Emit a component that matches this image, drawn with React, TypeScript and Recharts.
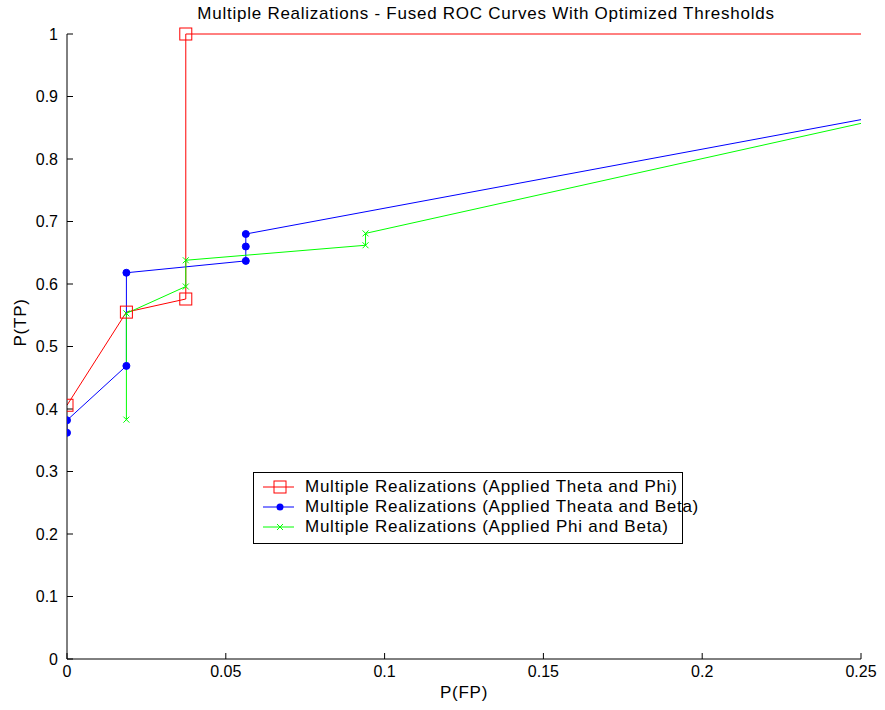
import React from 'react'
import { LineChart, Line, XAxis, YAxis } from 'recharts'

// P(FP) / P(TP)
const thetaPhiFp = [0, 0.0187, 0.0374, 0.0374, 0.25]
const thetaPhiTp = [0.406, 0.555, 0.576, 1.0, 1.0]

const thetaBetaFp = [0, 0, 0.0187, 0.0187, 0.0563, 0.0563, 0.0563, 0.25]
const thetaBetaTp = [0.362, 0.382, 0.469, 0.618, 0.637, 0.66, 0.68, 0.863]

const phiBetaFp = [0.0187, 0.0187, 0.0374, 0.0374, 0.094, 0.094, 0.25]
const phiBetaTp = [0.383, 0.553, 0.596, 0.638, 0.662, 0.681, 0.857]

const xTicks = [0, 0.05, 0.1, 0.15, 0.2, 0.25]
const yTicks = [0, 0.1, 0.2, 0.3, 0.4, 0.5, 0.6, 0.7, 0.8, 0.9, 1]

const seriesNames = [
  'Multiple Realizations (Applied Theta and Phi)',
  'Multiple Realizations (Applied Theata and Beta)',
  'Multiple Realizations (Applied Phi and Beta)',
]

const zip = (xs: number[], ys: number[]) => xs.map((fp, i) => ({ fp, tp: ys[i] }))

const FONT = '"Liberation Sans", Arial, sans-serif'
const X_MAX = 0.25

// the curves run on past the right edge, so no marker is drawn there
const SquareDot = (props: any) => {
  const { cx, cy, payload } = props
  if (cx == null || cy == null || payload.fp >= X_MAX) return null
  return <rect x={cx - 6} y={cy - 6} width={12} height={12} fill="none" stroke="#ff0000" strokeWidth={1} />
}

const CircleDot = (props: any) => {
  const { cx, cy, payload } = props
  if (cx == null || cy == null || payload.fp >= X_MAX) return null
  return <circle cx={cx} cy={cy} r={3.5} fill="#0000ff" stroke="#0000ff" />
}

const CrossDot = (props: any) => {
  const { cx, cy, payload } = props
  if (cx == null || cy == null || payload.fp >= X_MAX) return null
  const s = 3
  return (
    <g stroke="#00ff00" strokeWidth={1}>
      <line x1={cx - s} y1={cy - s} x2={cx + s} y2={cy + s} />
      <line x1={cx - s} y1={cy + s} x2={cx + s} y2={cy - s} />
    </g>
  )
}

const legendIcons = [
  (
    <g>
      <line x1={0} y1={8} x2={31} y2={8} stroke="#ff0000" />
      <rect x={11} y={2} width={12} height={12} fill="none" stroke="#ff0000" />
    </g>
  ),
  (
    <g>
      <line x1={0} y1={8} x2={31} y2={8} stroke="#0000ff" />
      <circle cx={17} cy={8} r={3.5} fill="#0000ff" />
    </g>
  ),
  (
    <g stroke="#00ff00">
      <line x1={0} y1={8} x2={31} y2={8} />
      <line x1={14} y1={5} x2={20} y2={11} />
      <line x1={14} y1={11} x2={20} y2={5} />
    </g>
  ),
]

const tickStyle = { fill: '#000', fontFamily: FONT, fontSize: 16 }
const labelStyle = { fill: '#000', fontFamily: FONT, fontSize: 17, letterSpacing: 0.75 }

export default function App() {
  return (
    <div style={{ position: 'absolute', left: 0, top: 0, width: 885, height: 710, background: '#fff' }}>
      <div
        style={{
          position: 'absolute',
          top: 4,
          left: 89,
          width: 794,
          textAlign: 'center',
          fontFamily: FONT,
          fontSize: 17,
          letterSpacing: 0.75,
          lineHeight: '20px',
        }}
      >
        Multiple Realizations - Fused ROC Curves With Optimized Thresholds
      </div>
      <LineChart width={885} height={710} margin={{ top: 34, right: 24, bottom: 0, left: 0 }}>
        <XAxis
          xAxisId="b"
          dataKey="fp"
          type="number"
          domain={[0, X_MAX]}
          ticks={xTicks}
          allowDataOverflow
          height={51}
          tickSize={-6}
          tickMargin={13}
          stroke="#000"
          tick={tickStyle}
          label={{ value: 'P(FP)', position: 'insideBottom', offset: 12, ...labelStyle }}
        />
        <XAxis
          xAxisId="t"
          orientation="top"
          dataKey="fp"
          type="number"
          domain={[0, X_MAX]}
          ticks={xTicks}
          height={0}
          tickSize={-6}
          tickFormatter={() => ''}
          stroke="#000"
        />
        <YAxis
          yAxisId="l"
          dataKey="tp"
          type="number"
          domain={[0, 1]}
          ticks={yTicks}
          width={67}
          tickSize={-6}
          tickMargin={15}
          stroke="#000"
          tick={tickStyle}
          label={{ value: 'P(TP)', angle: -90, position: 'insideLeft', offset: 20, ...labelStyle }}
        />
        <YAxis
          yAxisId="r"
          orientation="right"
          dataKey="tp"
          type="number"
          domain={[0, 1]}
          ticks={yTicks}
          width={0}
          tickSize={-6}
          tickFormatter={() => ''}
          stroke="#000"
        />
        <Line
          xAxisId="b"
          yAxisId="l"
          data={zip(thetaPhiFp, thetaPhiTp)}
          dataKey="tp"
          name={seriesNames[0]}
          stroke="#ff0000"
          strokeWidth={1}
          dot={<SquareDot />}
          activeDot={false}
          isAnimationActive={false}
        />
        <Line
          xAxisId="b"
          yAxisId="l"
          data={zip(thetaBetaFp, thetaBetaTp)}
          dataKey="tp"
          name={seriesNames[1]}
          stroke="#0000ff"
          strokeWidth={1}
          dot={<CircleDot />}
          activeDot={false}
          isAnimationActive={false}
        />
        <Line
          xAxisId="b"
          yAxisId="l"
          data={zip(phiBetaFp, phiBetaTp)}
          dataKey="tp"
          name={seriesNames[2]}
          stroke="#00ff00"
          strokeWidth={1}
          dot={<CrossDot />}
          activeDot={false}
          isAnimationActive={false}
        />
      </LineChart>
      <div
        style={{
          position: 'absolute',
          left: 253,
          top: 472,
          width: 428,
          height: 66,
          border: '1px solid #000',
          background: '#fff',
          fontFamily: FONT,
          fontSize: 17,
          letterSpacing: 0.75,
          lineHeight: '20px',
          paddingTop: 4,
          boxSizing: 'content-box',
        }}
      >
        {seriesNames.map((name, i) => (
          <div key={name} style={{ display: 'flex', alignItems: 'center', height: 20 }}>
            <svg width={31} height={16} style={{ marginLeft: 9, marginRight: 11, flex: 'none' }}>
              {legendIcons[i]}
            </svg>
            <span style={{ whiteSpace: 'nowrap' }}>{name}</span>
          </div>
        ))}
      </div>
    </div>
  )
}
